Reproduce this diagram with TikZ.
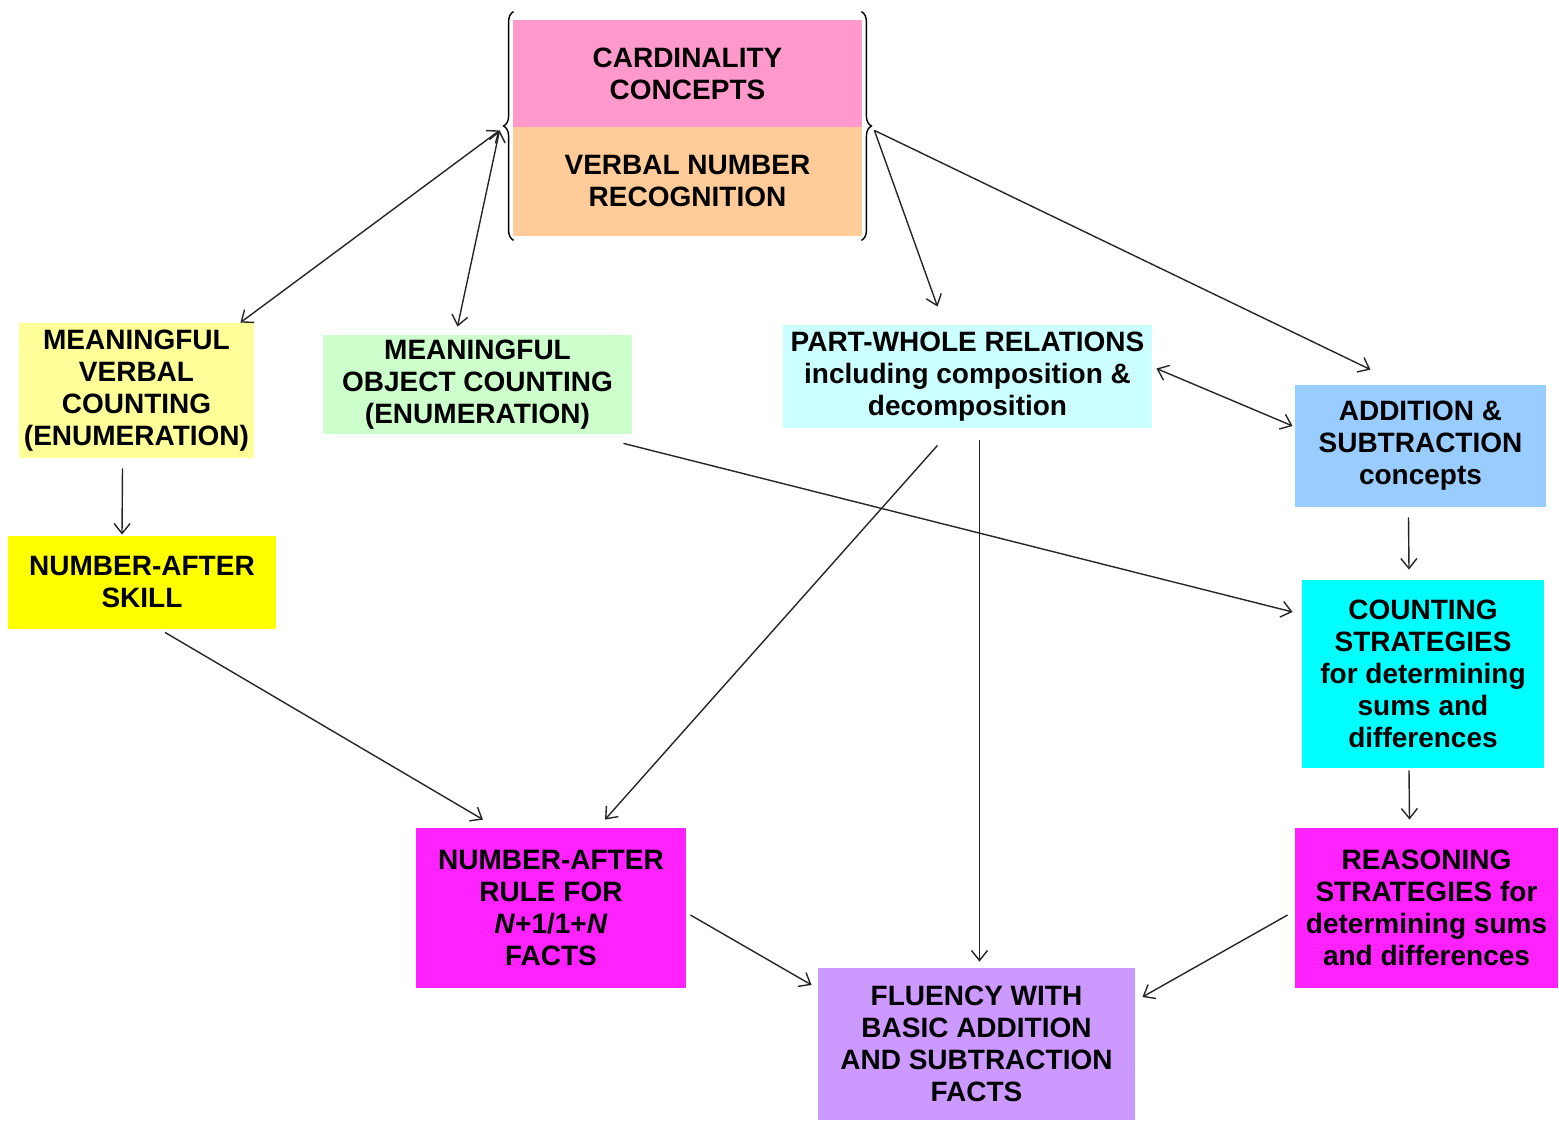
\documentclass[tikz,border=0pt]{standalone}
\usepackage{xcolor}
\usepackage{fontspec}
\setmainfont{Liberation Sans}
\usetikzlibrary{calc,arrows.meta,decorations.pathreplacing}

\definecolor{cardpink}{HTML}{FF99CC}
\definecolor{verbalorange}{HTML}{FFCC99}
\definecolor{paleyellow}{HTML}{FFFF99}
\definecolor{palegreen}{HTML}{CCFFCC}
\definecolor{palecyan}{HTML}{CCFFFF}
\definecolor{skyblue}{HTML}{99CCFF}
\definecolor{brightyellow}{HTML}{FFFF00}
\definecolor{brightcyan}{HTML}{00FFFF}
\definecolor{brightmagenta}{HTML}{FF22FF}
\definecolor{lavender}{HTML}{CC99FF}

\tikzset{
  box/.style n args={3}{fill=#1, minimum width=#2, minimum height=#3, inner sep=0pt,
    align=center, font=\bfseries\fontsize{14}{16}\selectfont},
  arr/.style={-{Straight Barb[length=5pt,width=8pt]}, line width=0.7pt, draw=black!85},
  dbl/.style={{Straight Barb[length=5pt,width=8pt]}-{Straight Barb[length=5pt,width=8pt]}, line width=0.7pt, draw=black!85}
}

\begin{document}
\begin{tikzpicture}[x=0.5pt,y=-0.5pt]
                \useasboundingbox (0,0) rectangle (1559,1122);
                % top pair of boxes with braces
                \node[box={cardpink}{174.5pt}{53.5pt}] (card) at (687.5,73.5) {CARDINALITY\\CONCEPTS};
                \node[box={verbalorange}{174.5pt}{54.5pt}] (vnr) at (687.5,181.5) {VERBAL NUMBER\\RECOGNITION};
                \draw[line width=0.7pt, decorate, decoration={brace, amplitude=5pt}] ($(vnr.south west)+(1,4)$) -- ($(card.north west)+(1,-8)$);
                \draw[line width=0.7pt, decorate, decoration={brace, amplitude=5pt}] ($(card.north east)+(-1,-8)$) -- ($(vnr.south east)+(-1,4)$);
                \coordinate (L) at ($(card.south west)+(-13,3)$);
                \coordinate (R) at ($(card.south east)+(12,3)$);
                % middle row
                \node[box={paleyellow}{117.5pt}{67.5pt}] (mvc) at (136.5,390.5) {MEANINGFUL\\VERBAL\\COUNTING\\(ENUMERATION)};
                \node[box={palegreen}{154.5pt}{49.5pt}] (moc) at (477.5,384.5) {MEANINGFUL\\OBJECT COUNTING\\(ENUMERATION)};
                \node[box={palecyan}{184.5pt}{51.5pt}] (pw) at (967.5,376.5) {PART-WHOLE RELATIONS\\including composition \&\\decomposition};
                \node[box={skyblue}{125.5pt}{61pt}] (as) at (1420.5,446) {ADDITION \&\\SUBTRACTION\\concepts};
                \node[box={brightyellow}{134pt}{46.5pt}] (nas) at (142,582.5) {NUMBER-AFTER\\SKILL};
                \node[box={brightcyan}{121pt}{94pt}] (cs) at (1423,674) {COUNTING\\STRATEGIES\\for determining\\sums and\\differences};
                % bottom row
                \node[box={brightmagenta}{135pt}{80pt}] (nar) at (551,908) {NUMBER-AFTER\\RULE FOR\\\textit{N}+1/1+\textit{N}\\FACTS};
                \node[box={brightmagenta}{131.5pt}{80pt}] (rs) at (1426.5,908) {REASONING\\STRATEGIES for\\determining sums\\and differences};
                \node[box={lavender}{158.5pt}{76pt}] (fl) at (976.5,1044) {FLUENCY WITH\\BASIC ADDITION\\AND SUBTRACTION\\FACTS};
                % connectors
                \draw[dbl] (L) -- ($(mvc.north east)+(-14,0)$);
                \draw[dbl] (L) -- ($(moc.north)+(-20,-8)$);
                \draw[arr] (R) -- ($(pw.north)+(-30,-18)$);
                \draw[arr] (R) -- ($(as.north)+(-50,-15)$);
                \draw[dbl] ($(pw.east)+(4,-8)$) -- ($(as.west)+(-2,-20)$);
                \draw[arr] ($(mvc.south)+(-14,10)$) -- ($(nas.north)+(-20,-1)$);
                \draw[arr] ($(moc.south east)+(-9,9)$) -- ($(cs.west)+(-9,-62)$);
                \draw[arr] ($(pw.south)+(-30,17)$) -- ($(nar.north)+(54,-8)$);
                \draw[arr] ($(pw.south)+(12,12)$) -- ($(fl.north)+(3,-6)$);
                \draw[arr] ($(nas.south)+(23,3)$) -- ($(nar.north)+(-68,-8)$);
                \draw[arr] ($(as.south)+(-12,10)$) -- ($(cs.north)+(-14,-10)$);
                \draw[arr] ($(cs.south)+(-14,2)$) -- ($(rs.north)+(-17,-8)$);
                \draw[arr] ($(nar.east)+(4,7)$) -- ($(fl.west)+(-6,-59)$);
                \draw[arr] ($(rs.west)+(-7,7)$) -- ($(fl.east)+(7,-47)$);
            \end{tikzpicture}
\end{document}
